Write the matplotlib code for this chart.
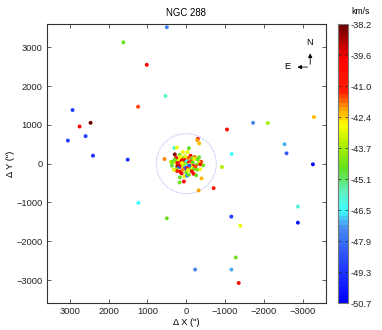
import numpy as np
import matplotlib
matplotlib.use("Agg")
import matplotlib.pyplot as plt
from matplotlib.patches import Circle
from matplotlib.colors import LinearSegmentedColormap

plt.rcParams['font.family'] = ['Liberation Sans', 'DejaVu Sans']

# outer stars: dX, dY (arcsec), radial velocity (km/s)
outer_x = [500, 1620, 1017, 534, 1241, 2931, 2466, 2750, 2595, 3052, 2405, 1509,
           1233, 500, -230, -1164, -1353, -1276, -1164, -1397, -707, -922, -1172,
           -1052, -1724, -2103, -3293, -2534, -2586, -3267, -2879, -2879]
outer_y = [3520, 3129, 2550, 1746, 1469, 1383, 1054, 959, 709, 596, 207, 104,
           -1011, -1409, -2730, -2731, -3077, -2420, -1366, -1599, -631, -86, 251,
           882, 1054, 1046, 1201, 501, 268, -17, -1106, -1521]
outer_v = [-47.5, -44.5, -40.0, -46.0, -41.5, -49.0, -38.3, -40.0, -49.0, -49.0, -49.5, -49.5,
           -46.5, -44.5, -47.5, -47.0, -40.0, -44.5, -49.0, -43.0, -40.8, -43.5, -46.5,
           -40.0, -47.5, -43.8, -42.2, -47.0, -48.5, -50.5, -46.0, -50.0]

# stars inside the cluster core
core_x = [-300, -285, -335, 310, 240, -70, 85, -35, 295, 170, -110, -215, -330, 25, 95,
          -15, -145, -385, -335, -440, -275, 395, 345, 275, 230, 155, 130, 70, 45, 15,
          -15, -40, -70, -105, -130, -170, -180, 200, 230, 180, 140, 105, 80, 35, 0,
          -35, -70, -105, -140, -205, 260, 205, 155, 120, 165, 170, 60, 50, -20, -70,
          -190, -260, -395, -320, 235, 320, 370, -360, -275, -80, 8, 50, 110, 205, 260,
          155, -60, -205, -295, -360, -240, -145, 0, 85, -40, 300, 560]
core_y = [640, 605, 525, 405, 415, 400, 300, 300, 240, 225, 205, 175, 165, 190, 155,
          120, 140, 50, 20, -45, -25, 45, 45, 25, 25, 70, 110, 70, 95, 35,
          60, 15, 35, -10, 60, 35, -60, -35, -70, -95, -50, -25, -80, -110, -140,
          -95, -120, -155, -95, -130, -140, -175, -205, -250, -355, -485, -460, -330, -310, -285,
          -260, -300, -380, -690, -190, -155, -50, -145, -155, -50, -15, 0, 15, 110, 155,
          175, 150, 120, 105, -15, -70, -200, -225, -155, -170, 105, 120]
core_v = [-40.5, -42.0, -42.3, -46.0, -43.0, -44.5, -42.5, -43.0, -38.5, -44.5, -40.0, -41.8, -44.5, -43.0, -44.0,
          -43.0, -44.5, -41.5, -43.0, -44.3, -44.6, -43.6, -44.5, -43.0, -40.0, -39.8, -40.0, -41.0, -39.8, -49.0,
          -46.5, -44.0, -40.0, -42.8, -41.5, -44.8, -39.5, -40.0, -38.8, -48.5, -39.5, -41.2, -43.0, -48.0, -49.5,
          -40.0, -41.5, -44.5, -43.0, -44.5, -44.5, -43.0, -40.0, -39.7, -44.8, -44.5, -40.0, -43.0, -47.5, -44.3,
          -40.3, -44.6, -42.2, -42.0, -41.3, -43.0, -44.7, -42.8, -44.3, -48.5, -46.0, -44.0, -43.0, -42.9, -40.0,
          -42.8, -41.6, -42.9, -44.6, -40.2, -41.5, -40.0, -44.5, -41.8, -43.0, -44.5, -41.8]

vmin, vmax = -50.7, -38.2
cbar_labels = ['-50.7', '-49.3', '-47.9', '-46.5', '-45.1', '-43.7', '-42.4', '-41.0', '-39.6', '-38.2']

x = np.array(outer_x + core_x)
y = np.array(outer_y + core_y)
v = np.array(outer_v + core_v)

# jet-like map as it looks in the reference (blue bottom, dark red top)
cmap = LinearSegmentedColormap.from_list('vel', [
    (0.00, '#0000ff'), (0.15, '#2848ff'), (0.27, '#4a90f0'), (0.33, '#40ffff'),
    (0.40, '#60f0c0'), (0.48, '#60e020'), (0.57, '#b0f000'), (0.64, '#ffff00'),
    (0.70, '#ffa000'), (0.76, '#ff2000'), (0.88, '#ff0000'), (1.00, '#700000')], N=64)

fig = plt.figure(figsize=(3.82, 3.30), dpi=100)
ax = fig.add_axes([0.122, 0.081, 0.731, 0.846])
cax = fig.add_axes([0.885, 0.081, 0.026, 0.846])

ax.add_patch(Circle((0, 0), 775, fill=False, ls=(0, (1, 1)), lw=0.7, ec='#a9b4f5'))
sc = ax.scatter(x, y, c=v, cmap=cmap, vmin=vmin, vmax=vmax, s=8, linewidths=0, zorder=3)

ax.set_xlim(3600, -3600)
ax.set_ylim(-3600, 3600)
ticks = [-3000, -2000, -1000, 0, 1000, 2000, 3000]
ax.set_xticks(ticks)
ax.set_yticks(ticks)
ax.tick_params(direction='in', top=True, right=True, labelsize=6.7, length=3, width=0.5, pad=3,
               colors='#222222')
for s in ax.spines.values():
    s.set_linewidth(0.8)
    s.set_color('#333333')
ax.set_xlabel('Δ X (")', fontsize=6.7, labelpad=1)
ax.set_ylabel('Δ Y (")', fontsize=6.7, labelpad=1)
ax.set_title('NGC 288', fontsize=6.9, pad=6)

# compass
ax.annotate('', xy=(0.944, 0.905), xytext=(0.944, 0.846), xycoords='axes fraction',
            arrowprops=dict(arrowstyle='-|>', lw=0.6, color='k', mutation_scale=6))
ax.annotate('', xy=(0.888, 0.846), xytext=(0.944, 0.846), xycoords='axes fraction',
            arrowprops=dict(arrowstyle='-|>', lw=0.6, color='k', mutation_scale=6))
ax.text(0.94, 0.935, 'N', transform=ax.transAxes, fontsize=6.7, ha='center', va='center')
ax.text(0.862, 0.848, 'E', transform=ax.transAxes, fontsize=6.7, ha='center', va='center')

cb = fig.colorbar(sc, cax=cax)
cb.set_ticks(np.linspace(vmin, vmax, 10))
cb.set_ticklabels(cbar_labels)
cb.ax.tick_params(labelsize=6.7, direction='in', length=2.5, width=0.5, left=True, pad=2,
                  colors='#222222')
cb.outline.set_edgecolor('#777777')
cb.outline.set_linewidth(0.8)
fig.text(0.945, 0.965, 'km/s', fontsize=6.2, ha='center', va='center')

fig.savefig('out.png', dpi=100)
